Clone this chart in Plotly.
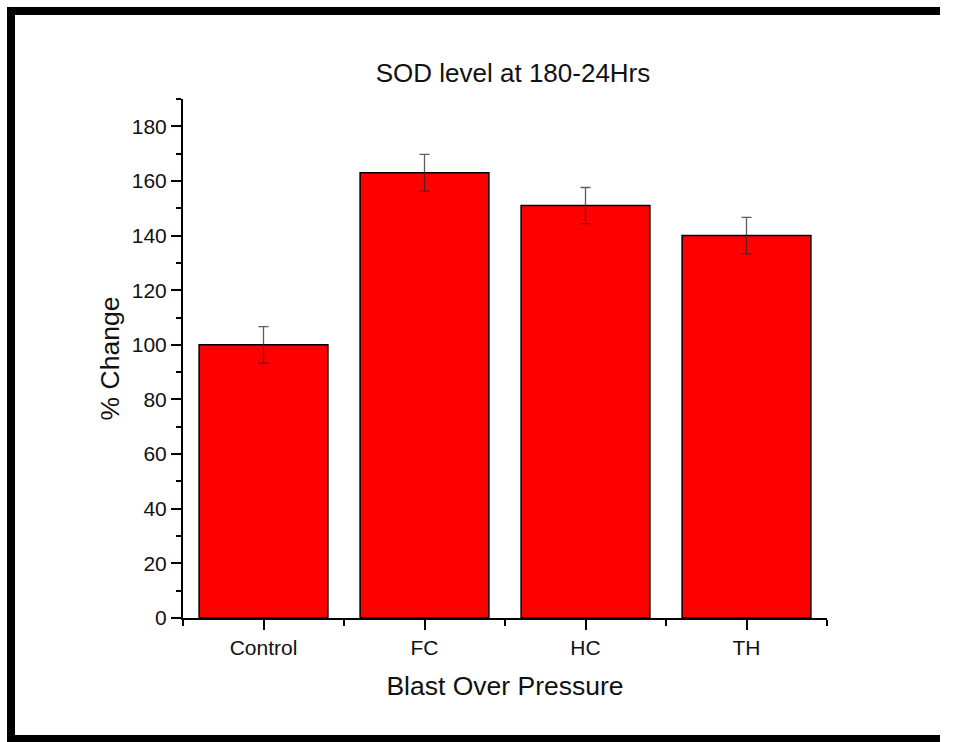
import plotly.graph_objects as go

categories = ["Control", "FC", "HC", "TH"]
values = [100, 163, 151, 140]
errors = [6.7, 6.7, 6.6, 6.7]
y_ticks = [0, 20, 40, 60, 80, 100, 120, 140, 160, 180]

W, H = 954, 742
L, R, T, B = 183, 827, 99, 618  # plot area in pixels


def px_x(px):
    return (px - L) / (R - L)


def px_y(py):
    return (B - py) / (B - T)


x_pos = list(range(len(categories)))

fig = go.Figure()
fig.add_trace(go.Bar(
    x=x_pos,
    y=values,
    width=0.8,
    marker=dict(color="#FF0000", line=dict(color="black", width=1.5)),
    error_y=dict(type="data", array=errors, visible=True,
                 color="rgba(40,40,40,0.75)", thickness=1.3, width=5),
    showlegend=False,
))

font = "Liberation Sans, Arial, sans-serif"

fig.update_layout(
    width=W, height=H,
    margin=dict(l=L, r=W - R, t=T, b=H - B),
    paper_bgcolor="white",
    plot_bgcolor="white",
    font=dict(family=font, color="#111", size=22),
    title=dict(text="SOD level at 180-24Hrs", font=dict(size=26, color="#111"),
               x=px_x(513), xref="paper", xanchor="center",
               y=1 - 73 / H, yref="container", yanchor="middle"),
    bargap=0.2,
)

fig.update_xaxes(
    range=[-0.5, 3.5],
    tickmode="array", tickvals=x_pos, ticktext=categories,
    showline=True, linecolor="black", linewidth=2,
    ticks="outside", ticklen=10, tickwidth=1.5, tickcolor="black",
    minor=dict(tick0=-0.5, dtick=1, ticks="outside", ticklen=6, tickwidth=1.5, tickcolor="black"),
    showgrid=False, zeroline=False,
    tickfont=dict(size=21),
    title=dict(text="Blast Over Pressure", font=dict(size=26.5), standoff=18),
)

fig.update_yaxes(
    range=[0, 190],
    tickmode="array", tickvals=y_ticks,
    showline=True, linecolor="black", linewidth=2,
    ticks="outside", ticklen=10, tickwidth=1.5, tickcolor="black",
    minor=dict(tick0=0, dtick=10, ticks="outside", ticklen=5, tickwidth=1.5, tickcolor="black"),
    showgrid=False, zeroline=False,
    tickfont=dict(size=21),
    title=dict(text="% Change", font=dict(size=26.5), standoff=4),
)

# black picture frame (left, top, bottom)
frame = [
    (7, 7, 15, 742),
    (7, 7, 940, 15),
    (7, 735, 940, 742),
]
for x0, y0, x1, y1 in frame:
    fig.add_shape(type="rect", xref="paper", yref="paper",
                  x0=px_x(x0), x1=px_x(x1), y0=px_y(y1), y1=px_y(y0),
                  fillcolor="black", line=dict(width=0), layer="above")

fig.write_html("out.html")
